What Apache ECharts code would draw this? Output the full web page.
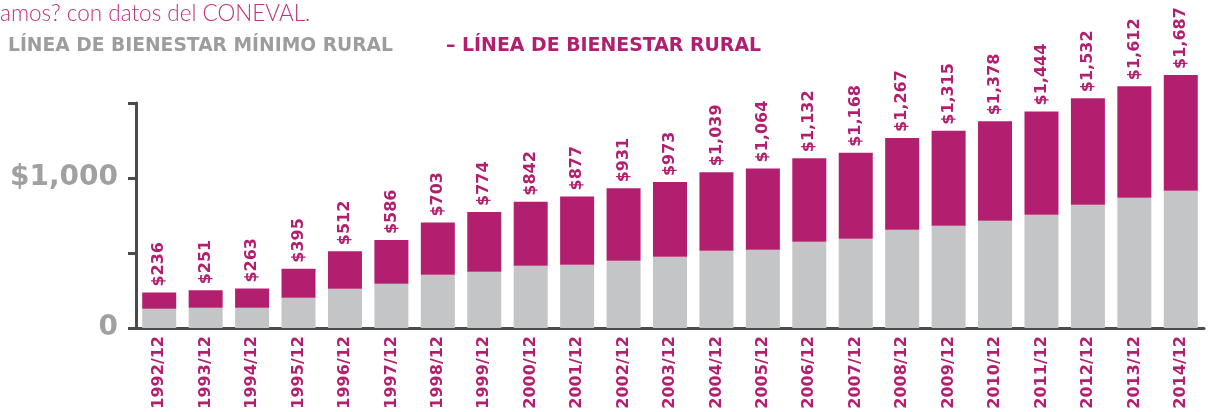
<!DOCTYPE html>
<html>
<head>
    <meta charset="utf-8">
    <title>Línea de bienestar rural</title>
    <script src="https://cdn.jsdelivr.net/npm/echarts@6/dist/echarts.min.js"></script>
    <style type="text/css">
        html, body {
            margin: 0;
            padding: 0;
            background: #fff;
        }

        #main {
            width: 1209px;
            height: 412px;
        }
    </style>
</head>
<body>
<div id="main"></div>
<script>
    // valores (pesos, mensual)
    var years = ['1992/12', '1993/12', '1994/12', '1995/12', '1996/12', '1997/12', '1998/12', '1999/12',
        '2000/12', '2001/12', '2002/12', '2003/12', '2004/12', '2005/12', '2006/12', '2007/12',
        '2008/12', '2009/12', '2010/12', '2011/12', '2012/12', '2013/12', '2014/12'];
    var minimoRural = [129, 135, 135, 202, 262, 295, 355, 375, 415, 422, 449, 475, 515, 522,
        575, 595, 655, 682, 715, 755, 822, 869, 915];
    var bienestarRural = [236, 251, 263, 395, 512, 586, 703, 774, 842, 877, 931, 973, 1039, 1064,
        1132, 1168, 1267, 1315, 1378, 1444, 1532, 1612, 1687];

    var magenta = '#b21f6e';
    var gris = '#c4c5c7';
    var ejes = '#4a4a4c';
    var letra = '"DejaVu Sans"';

    // la parte magenta es la diferencia sobre la línea mínima
    var diferencia = bienestarRural.map(function (v, i) {
        return v - minimoRural[i];
    });

    function pesos(v) {
        return '$' + String(v).replace(/\B(?=(\d{3})+(?!\d))/g, ',');
    }

    var myChart = echarts.init(document.getElementById('main'));

    var option = {
        animation: false,
        textStyle: {fontFamily: letra},
        grid: {left: 136, right: 5, top: 103, bottom: 84, containLabel: false},
        graphic: [
            {
                type: 'text', left: 0, top: 2,
                style: {text: 'amos? con datos del CONEVAL.', fill: '#c0307c', font: '300 22.5px Lato'}
            },
            {
                type: 'text', left: 8, top: 37,
                style: {text: 'LÍNEA DE BIENESTAR MÍNIMO RURAL', fill: '#9d9d9f', font: 'bold 18.7px "DejaVu Sans"'}
            },
            {
                type: 'text', left: 446, top: 37,
                style: {text: '– LÍNEA DE BIENESTAR RURAL', fill: magenta, font: 'bold 18.9px "DejaVu Sans"'}
            }
        ],
        xAxis: {
            type: 'category',
            data: years,
            axisLine: {lineStyle: {color: ejes, width: 3}},
            axisTick: {inside: true, length: 5, lineStyle: {color: ejes, width: 3}},
            axisLabel: {
                rotate: 90,
                margin: 8,
                color: magenta,
                fontWeight: 'bold',
                fontSize: 16,
                fontFamily: letra
            }
        },
        yAxis: {
            type: 'value',
            min: 0,
            max: 1500,
            interval: 500,
            splitLine: {show: false},
            axisLine: {show: true, lineStyle: {color: ejes, width: 3}},
            axisTick: {show: true, length: 8, lineStyle: {color: ejes, width: 3}},
            axisLabel: {
                margin: 18,
                color: '#a0a0a2',
                fontWeight: 'bold',
                fontSize: 28,
                fontFamily: letra,
                formatter: function (v) {
                    if (v === 0) return '0';
                    if (v === 1000) return '$1,000';
                    return '';
                }
            }
        },
        series: [
            {
                name: 'LÍNEA DE BIENESTAR MÍNIMO RURAL',
                type: 'bar',
                stack: 'total',
                barWidth: 34,
                clip: false,
                itemStyle: {color: gris},
                data: minimoRural
            },
            {
                name: 'LÍNEA DE BIENESTAR RURAL',
                type: 'bar',
                stack: 'total',
                barWidth: 34,
                clip: false,
                itemStyle: {color: magenta},
                label: {
                    show: true,
                    position: 'top',
                    distance: 6,
                    rotate: 90,
                    align: 'left',
                    verticalAlign: 'middle',
                    color: magenta,
                    fontWeight: 'bold',
                    fontSize: 16,
                    fontFamily: letra,
                    formatter: function (p) {
                        return pesos(bienestarRural[p.dataIndex]);
                    }
                },
                data: diferencia
            }
        ]
    };
    myChart.setOption(option);
</script>
</body>
</html>
